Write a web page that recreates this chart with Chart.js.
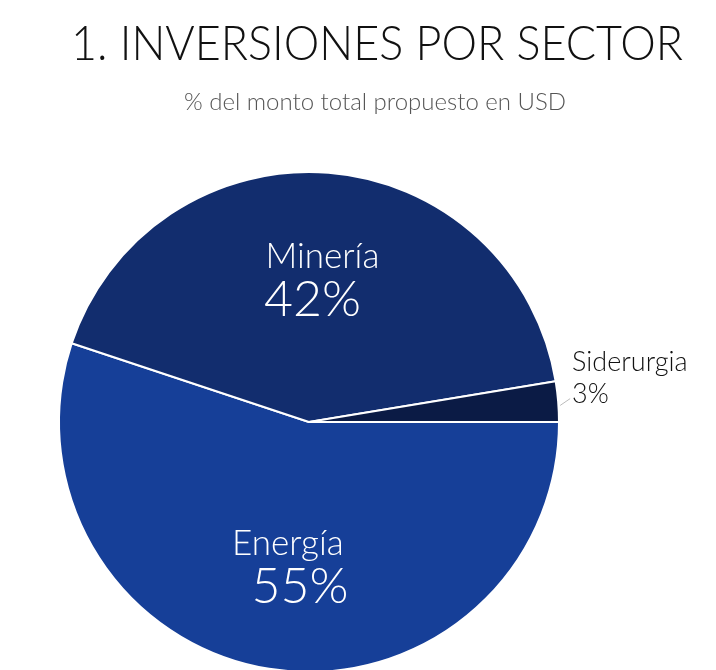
<!DOCTYPE html>
<html>
<head>
<meta charset="utf-8">
<script src="https://cdn.jsdelivr.net/npm/chart.js@4"></script>
<style>
  html, body { margin: 0; padding: 0; background: #fff; overflow: hidden; }
  #wrap { width: 716px; height: 670px; overflow: hidden; }
</style>
</head>
<body>
<div id="wrap"><canvas id="pieChart" width="716" height="680"></canvas></div>
<script>
const sectors = ['Energía', 'Minería', 'Siderurgia'];
const shares = [55.1, 42.3, 2.6];
const sliceColors = ['#163f98', '#122d6e', '#0b1b45'];

const titleText = '1. INVERSIONES POR SECTOR';
const subtitleText = '% del monto total propuesto en USD';

const fontFamily = 'Lato, "Open Sans", sans-serif';

// nudges for the name / percent lines inside the two big slices
const nameShift = [2, 2];
const pctShift = [14, -8];

// titles and slice labels, drawn on top of the pie
const labelPlugin = {
  id: 'sliceLabels',
  afterDraw(chart) {
    const ctx = chart.ctx;
    ctx.save();
    ctx.textBaseline = 'middle';
    ctx.textAlign = 'center';
    ctx.fillStyle = '#111';
    ctx.font = '300 48px ' + fontFamily;
    ctx.fillText(titleText, 377, 45, 612);
    ctx.fillStyle = '#555';
    ctx.font = '300 24px ' + fontFamily;
    ctx.fillText(subtitleText, 375, 102, 396);

    const meta = chart.getDatasetMeta(0);
    meta.data.forEach(function(arc, i) {
      const mid = (arc.startAngle + arc.endAngle) / 2;
      const r = arc.outerRadius;
      const pct = Math.round(shares[i]) + '%';
      if (i === 2) {
        // small slice: label outside with a short leader line
        ctx.strokeStyle = '#bbb';
        ctx.lineWidth = 1;
        ctx.beginPath();
        ctx.moveTo(arc.x + Math.cos(mid) * (r + 2), arc.y + Math.sin(mid) * (r + 2) + 4);
        ctx.lineTo(arc.x + Math.cos(mid) * (r + 12), arc.y + Math.sin(mid) * (r + 12) - 2);
        ctx.stroke();
        const x = arc.x + Math.cos(mid) * (r + 14);
        const y = arc.y + Math.sin(mid) * (r + 14);
        ctx.textAlign = 'left';
        ctx.fillStyle = '#111';
        ctx.font = '300 27px ' + fontFamily;
        ctx.fillText(sectors[i], x, y - 38);
        ctx.fillText(pct, x, y - 6);
      } else {
        const x = arc.x + Math.cos(mid) * r * 0.58;
        const y = arc.y + Math.sin(mid) * r * 0.58;
        ctx.textAlign = 'center';
        ctx.fillStyle = '#fff';
        ctx.font = '300 35px ' + fontFamily;
        ctx.fillText(sectors[i], x + nameShift[i], y - 21);
        ctx.font = '300 50px ' + fontFamily;
        ctx.fillText(pct, x + pctShift[i], y + 22);
      }
    });
    ctx.restore();
  }
};

const ctxPie = document.getElementById('pieChart');

new Chart(ctxPie, {
  type: 'pie',
  data: {
    labels: sectors,
    datasets: [{
      data: shares,
      backgroundColor: sliceColors,
      borderColor: '#ffffff',
      borderWidth: 2
    }]
  },
  options: {
    responsive: false,
    animation: false,
    rotation: 90,
    layout: {
      padding: { left: 58, right: 156, top: 171, bottom: 7 }
    },
    plugins: {
      legend: { display: false },
      tooltip: { enabled: false },
      title: { display: false }
    }
  },
  plugins: [labelPlugin]
});
</script>
</body>
</html>
